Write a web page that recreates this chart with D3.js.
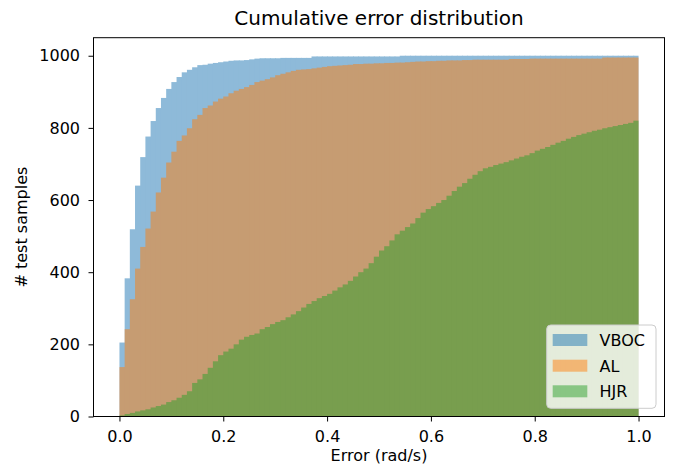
<!DOCTYPE html>
<html>
<head>
<meta charset="utf-8">
<script src="https://cdn.jsdelivr.net/npm/d3@7"></script>
<style>
  html, body { margin: 0; padding: 0; background: #fff; }
  svg { display: block; font-family: "DejaVu Sans", sans-serif; }
</style>
</head>
<body>
<svg id="chart" width="674" height="470"></svg>
<script>
// ---- data ----
const binWidth = 0.01;
const binStarts = d3.range(100).map(i => +(i * binWidth).toFixed(2));
const seriesNames = ["VBOC", "AL", "HJR"];
const seriesColors = ["#1f77b4", "#ff7f0e", "#2ca02c"];
const vbocCounts = [205,383,519,640,719,776,819,855,883,908,
  927,941,954,961,968,974,975,978,980,982,
  984,986,987,987,988,990,992,993,993,993,
  993,994,994,994,994,994,994,998,998,998,
  998,998,998,998,998,998,998,998,998,998,
  998,998,998,998,1000,1000,1000,1000,1000,1000,
  1000,1000,1000,1000,1000,1000,1000,1000,1000,1000,
  1000,1000,1000,1000,1000,1000,1000,1000,1000,1000,
  1000,1000,1000,1000,1000,1000,1000,1000,1000,1000,
  1000,1000,1000,1000,1000,1000,1000,1000,1000,1000];
const alCounts = [137,242,325,410,470,521,568,621,662,704,
  734,764,779,799,824,836,855,862,873,881,
  887,896,903,908,913,919,927,931,935,940,
  946,950,954,958,961,962,963,965,967,969,
  971,972,973,974,975,977,977,978,978,979,
  979,980,980,981,981,982,983,984,984,985,
  985,986,986,987,987,987,988,988,989,989,
  989,989,989,989,989,991,991,991,991,992,
  992,992,992,992,992,992,992,992,992,992,
  992,992,992,995,995,995,995,995,995,995];
const hjrCounts = [3,7,10,14,17,20,25,29,33,40,
  45,52,60,70,93,103,118,135,153,170,
  180,188,200,213,221,226,230,242,248,256,
  262,267,275,283,292,302,312,320,328,334,
  340,349,358,366,376,388,400,410,425,443,
  460,472,488,505,515,525,535,550,565,575,
  583,592,600,612,625,637,647,659,670,680,
  688,692,697,701,705,710,715,720,724,730,
  737,742,747,753,759,764,770,775,780,784,
  788,792,795,799,802,805,808,811,814,820];
const xTicks = [0, 0.2, 0.4, 0.6, 0.8, 1.0];
const yTicks = [0, 200, 400, 600, 800, 1000];
const titleText = "Cumulative error distribution";
const xLabelText = "Error (rad/s)";
const yLabelText = "# test samples";

const allSeries = [vbocCounts, alCounts, hjrCounts];

// ---- layout ----
const L = 93.5, R = 664.5, T = 37.7, B = 416.5;
const svg = d3.select("#chart");
svg.append("rect").attr("width", 674).attr("height", 470).attr("fill", "#fff");

const x = d3.scaleLinear().domain([-0.05, 1.05]).range([L, R]);
const y = d3.scaleLinear().domain([0, 1050]).range([B, T]);

// ---- bars ----
allSeries.forEach((vals, si) => {
  const g = svg.append("g").attr("opacity", 0.5).attr("fill", seriesColors[si]);
  g.selectAll("rect").data(vals).join("rect")
    .attr("x", (d, i) => x(binStarts[i]))
    .attr("width", (d, i) => x(binStarts[i] + binWidth) - x(binStarts[i]) + (i < vals.length - 1 ? 0.8 : 0))
    .attr("y", d => y(d))
    .attr("height", d => y(0) - y(d));
});

// ---- axes ----
const fontSize = 16;
const xAxis = svg.append("g").attr("transform", `translate(0,${B})`)
  .call(d3.axisBottom(x).tickValues(xTicks).tickFormat(d3.format(".1f")).tickSize(5).tickPadding(9.5));
const yAxis = svg.append("g").attr("transform", `translate(${L},0)`)
  .call(d3.axisLeft(y).tickValues(yTicks).tickFormat(d3.format("d")).tickSize(5).tickPadding(8.5));
[xAxis, yAxis].forEach(a => {
  a.select(".domain").remove();
  a.selectAll("line").attr("stroke", "#000").attr("stroke-width", 1);
  a.selectAll("text").attr("font-size", fontSize).attr("fill", "#000")
    .attr("font-family", "DejaVu Sans, sans-serif");
});

// frame
svg.append("rect").attr("x", L).attr("y", T).attr("width", R - L).attr("height", B - T)
  .attr("fill", "none").attr("stroke", "#000").attr("stroke-width", 1);

// ---- labels ----
svg.append("text").attr("x", (L + R) / 2).attr("y", 24.5).attr("text-anchor", "middle")
  .attr("font-size", 20).attr("fill", "#000").text(titleText);
svg.append("text").attr("x", (L + R) / 2).attr("y", 461).attr("text-anchor", "middle")
  .attr("font-size", fontSize).attr("fill", "#000").text(xLabelText);
svg.append("text").attr("transform", `translate(27,${(T + B) / 2}) rotate(-90)`)
  .attr("text-anchor", "middle").attr("font-size", fontSize).attr("fill", "#000").text(yLabelText);

// ---- legend ----
const lg = svg.append("g");
lg.append("rect").attr("x", 546.7).attr("y", 325).attr("width", 109.3).attr("height", 83.3)
  .attr("rx", 4).attr("fill", "#fff").attr("fill-opacity", 0.8)
  .attr("stroke", "#cccccc").attr("stroke-width", 1);
const rowY = [346, 371.7, 397.3];
seriesNames.forEach((name, i) => {
  lg.append("rect").attr("x", 552.7).attr("y", rowY[i] - 12).attr("width", 34.6).attr("height", 12)
    .attr("fill", seriesColors[i]).attr("fill-opacity", 0.5);
  lg.append("text").attr("x", 599.5).attr("y", rowY[i]).attr("font-size", fontSize)
    .attr("fill", "#000").text(name);
});
</script>
</body>
</html>
